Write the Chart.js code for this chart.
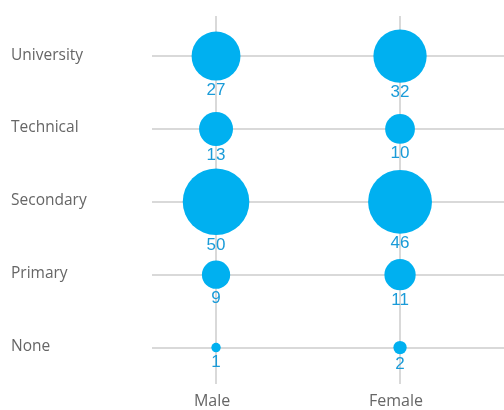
<!DOCTYPE html>
<html>
<head>
<meta charset="utf-8">
<script src="https://cdn.jsdelivr.net/npm/chart.js@4.4.1/dist/chart.umd.min.js"></script>
<style>
  html, body { margin: 0; padding: 0; background: #fff; }
  #wrap { width: 504px; height: 410px; position: relative; }
</style>
</head>
<body>
<div id="wrap"><canvas id="eduChart"></canvas></div>
<script>
// education level (bottom to top) and gender columns
const levels = ['None', 'Primary', 'Secondary', 'Technical', 'University'];
const genders = ['Male', 'Female'];
const maleCounts = [1, 9, 50, 13, 27];
const femaleCounts = [2, 11, 46, 10, 32];

const BUBBLE_BLUE = '#00b0f0';
const LABEL_BLUE = '#1a9bd8';
const GRID = '#d9d9d9';
const MAX_R = 33.3;          // radius of the biggest bubble, area ~ value
const maxCount = Math.max(...maleCounts, ...femaleCounts);

const toPoints = (counts, col) => counts.map((v, i) => ({
    x: col,
    y: i,
    r: MAX_R * Math.sqrt(v / maxCount),
    v: v
}));

// value under each bubble
const valueLabels = {
    id: 'valueLabels',
    afterDatasetsDraw(chart) {
        const ctx = chart.ctx;
        ctx.save();
        ctx.font = '17px "Liberation Sans", Arial, sans-serif';
        ctx.fillStyle = LABEL_BLUE;
        ctx.textAlign = 'center';
        ctx.textBaseline = 'alphabetic';
        chart.data.datasets.forEach((ds, di) => {
            chart.getDatasetMeta(di).data.forEach((el, i) => {
                const r = el.options.radius;
                ctx.fillText(String(ds.data[i].v), el.x, el.y + r + 14.5);
            });
        });
        ctx.restore();
    }
};

new Chart(document.getElementById('eduChart'), {
    type: 'bubble',
    data: {
        datasets: [
            { label: genders[0], data: toPoints(maleCounts, 0), backgroundColor: BUBBLE_BLUE, borderWidth: 0 },
            { label: genders[1], data: toPoints(femaleCounts, 1), backgroundColor: BUBBLE_BLUE, borderWidth: 0 }
        ]
    },
    options: {
        responsive: true,
        maintainAspectRatio: false,
        animation: false,
        events: [],
        layout: { autoPadding: false, padding: { top: 16, left: 11, right: 0, bottom: 0 } },
        plugins: {
            legend: { display: false },
            tooltip: { enabled: false }
        },
        scales: {
            x: {
                type: 'linear',
                min: -0.348,
                max: 1.565,
                afterBuildTicks: (s) => { s.ticks = genders.map((_, i) => ({ value: i })); },
                afterFit: (s) => { s.height = 26; },
                ticks: {
                    callback: (v) => genders[v],
                    color: '#666666',
                    font: { family: '"Open Sans", sans-serif', size: 16 },
                    padding: 8,
                    labelOffset: -4,
                    maxRotation: 0,
                    autoSkip: false
                },
                grid: { color: GRID, lineWidth: 2, drawTicks: false },
                border: { display: false }
            },
            y: {
                type: 'linear',
                min: -0.5,
                max: 4.55,
                afterBuildTicks: (s) => { s.ticks = levels.map((_, i) => ({ value: i })); },
                afterFit: (s) => { s.width = 141; },
                ticks: {
                    callback: (v) => levels[v],
                    color: '#666666',
                    font: { family: '"Open Sans", sans-serif', size: 15.5 },
                    crossAlign: 'far',
                    labelOffset: -1,
                    autoSkip: false
                },
                grid: { color: GRID, lineWidth: 2, drawTicks: false },
                border: { display: false }
            }
        }
    },
    plugins: [valueLabels]
});
</script>
</body>
</html>
